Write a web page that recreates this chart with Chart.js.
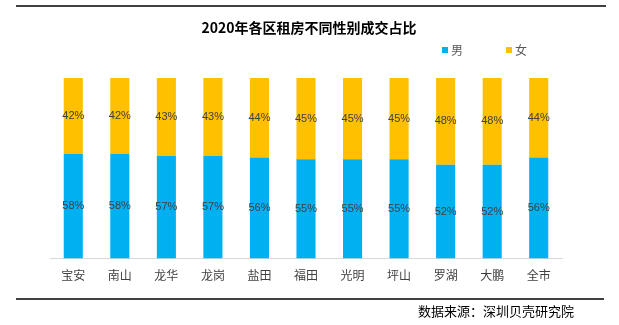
<!DOCTYPE html>
<html>
<head>
<meta charset="utf-8">
<script src="https://cdn.jsdelivr.net/npm/chart.js@4/dist/chart.umd.min.js"></script>
<style>
html,body{margin:0;padding:0;background:#fff;}
#wrap{width:619px;height:325px;position:relative;}
</style>
</head>
<body>
<div id="wrap"><canvas id="c" width="619" height="325"></canvas></div>
<script>
const categories = ["宝安","南山","龙华","龙岗","盐田","福田","光明","坪山","罗湖","大鹏","全市"];
const maleValues = [58,58,57,57,56,55,55,55,52,52,56];
const femaleValues = [42,42,43,43,44,45,45,45,48,48,44];
const seriesNames = ["男","女"];
const titleText = "2020年各区租房不同性别成交占比";
const sourceText = "数据来源：深圳贝壳研究院";

const CJK = '"Noto Sans CJK SC", "Microsoft YaHei", sans-serif';

const decor = {
  id: 'decor',
  afterDraw(chart) {
    const ctx = chart.ctx;
    ctx.save();
    ctx.strokeStyle = '#000';
    ctx.lineWidth = 1.5;
    ctx.beginPath(); ctx.moveTo(16, 6); ctx.lineTo(606, 6); ctx.stroke();
    ctx.beginPath(); ctx.moveTo(16, 299); ctx.lineTo(604, 299); ctx.stroke();
    ctx.fillStyle = '#000';
    ctx.font = 'bold 14px ' + CJK;
    ctx.textAlign = 'center';
    ctx.textBaseline = 'middle';
    ctx.fillText(titleText, 309, 28);
    const colors = chart.data.datasets.map(d => d.backgroundColor);
    const lx = [442, 506];
    ctx.font = '12px ' + CJK;
    ctx.textAlign = 'left';
    chart.data.datasets.forEach((d, i) => {
      ctx.fillStyle = colors[i];
      ctx.fillRect(lx[i], 47, 6, 6);
      ctx.fillStyle = '#595959';
      ctx.fillText(d.label, lx[i] + 9, 50);
    });
    ctx.font = '11px "Liberation Sans", Arial, sans-serif';
    ctx.fillStyle = '#404040';
    ctx.textAlign = 'center';
    chart.data.datasets.forEach((d, i) => {
      const meta = chart.getDatasetMeta(i);
      meta.data.forEach((bar, j) => {
        const y = (bar.y + bar.base) / 2;
        ctx.fillText(d.data[j] + '%', bar.x, y);
      });
    });
    ctx.fillStyle = '#000';
    ctx.font = '13px ' + CJK;
    ctx.textAlign = 'left';
    ctx.fillText(sourceText, 418, 311);
    ctx.restore();
  }
};

new Chart(document.getElementById('c'), {
  type: 'bar',
  data: {
    labels: categories,
    datasets: [
      { label: seriesNames[0], data: maleValues, backgroundColor: '#00B0F0' },
      { label: seriesNames[1], data: femaleValues, backgroundColor: '#FFC000' }
    ]
  },
  options: {
    responsive: false,
    animation: false,
    devicePixelRatio: 1,
    layout: { padding: { left: 50, right: 57, top: 78, bottom: 32 } },
    plugins: { legend: { display: false }, title: { display: false }, tooltip: { enabled: false } },
    datasets: { bar: { categoryPercentage: 1, barPercentage: 0.41 } },
    scales: {
      x: {
        stacked: true,
        grid: { display: false, drawTicks: false },
        border: { display: true, color: '#D9D9D9', width: 1 },
        ticks: { color: '#404040', padding: 10, font: { size: 12, family: CJK } }
      },
      y: {
        stacked: true,
        display: false,
        min: 0,
        max: 100
      }
    }
  },
  plugins: [decor]
});
</script>
</body>
</html>
